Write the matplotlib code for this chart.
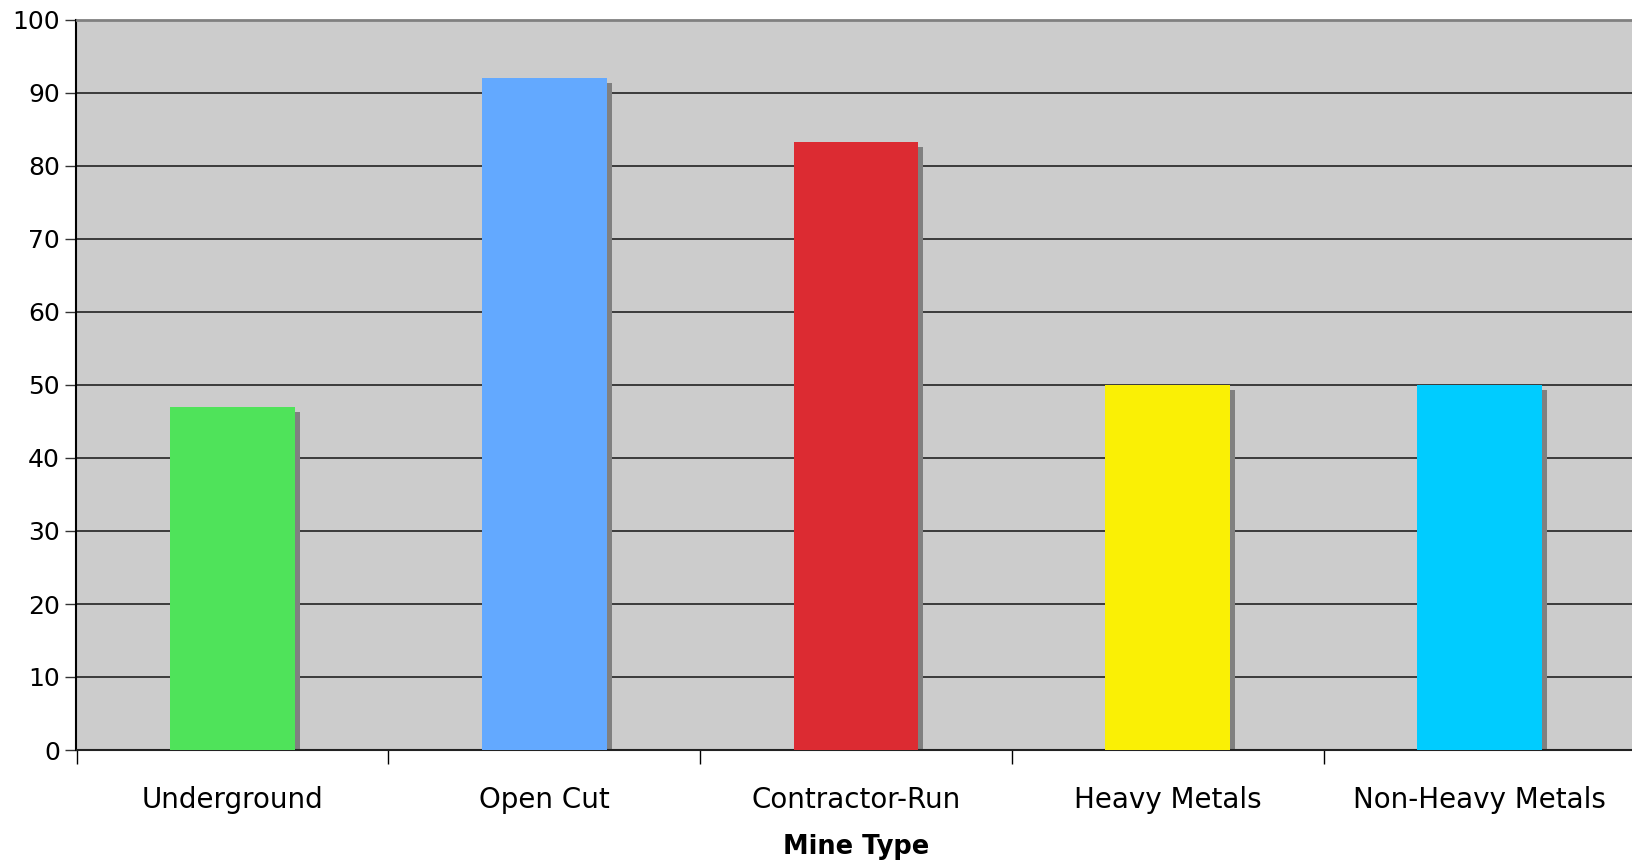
import numpy as np
import matplotlib
matplotlib.use('Agg')
import matplotlib.pyplot as plt

#DATA
categories = ['Underground', 'Open Cut', 'Contractor-Run', 'Heavy Metals', 'Non-Heavy Metals']
values = [47, 92, 83.3, 50, 50]
colors = ['#4FE35A', '#63A9FF', '#DC2B32', '#FAF005', '#00CCFF']

plt.rcParams['font.family'] = 'DejaVu Sans'
plt.rcParams['font.size'] = 18

fig = plt.figure(figsize=(16.33, 8.61), dpi=100)
cat_w = 311.8  # px per category
ax = fig.add_axes([76.5/1633, 1 - 750/861, 5*cat_w/1633, 730/861])
ax.set_facecolor('#CCCCCC')

x = np.arange(len(categories))
width = 0.4

#SHADOW
dx = 5 / cat_w
dy = 5 / 7.3
ax.bar(x + dx, np.array(values) - dy, width=width, color='#808080', zorder=2)
ax.bar(x, values, width=width, color=colors, zorder=3)

ax.set_xlim(-0.5, len(categories) - 0.5)
ax.set_ylim(0, 100)
ax.set_yticks(np.arange(0, 101, 10))
ax.yaxis.grid(True, color='#222222', linewidth=1.2, zorder=1)
ax.set_axisbelow(True)

#X TICKS: marks at boundaries, labels at centres
ax.set_xticks(np.arange(-0.5, len(categories), 1.0))
ax.set_xticklabels([])
ax.set_xticks(x, minor=True)
ax.set_xticklabels(categories, minor=True, fontsize=20)
ax.tick_params(axis='x', which='major', length=10, width=1, color='black')
ax.tick_params(axis='x', which='minor', length=0, pad=26)
ax.tick_params(axis='y', length=8, width=1, color='#333333', pad=4, labelsize=18)

ax.spines['right'].set_visible(False)
ax.spines['top'].set_color('#808080')
ax.spines['top'].set_linewidth(2)
ax.spines['left'].set_color('black')
ax.spines['left'].set_linewidth(1.5)
ax.spines['bottom'].set_color('#222222')
ax.spines['bottom'].set_linewidth(1.5)

ax.set_xlabel('Mine Type', fontweight='bold', fontsize=18.5, labelpad=14)

fig.savefig('out.png', dpi=100)
